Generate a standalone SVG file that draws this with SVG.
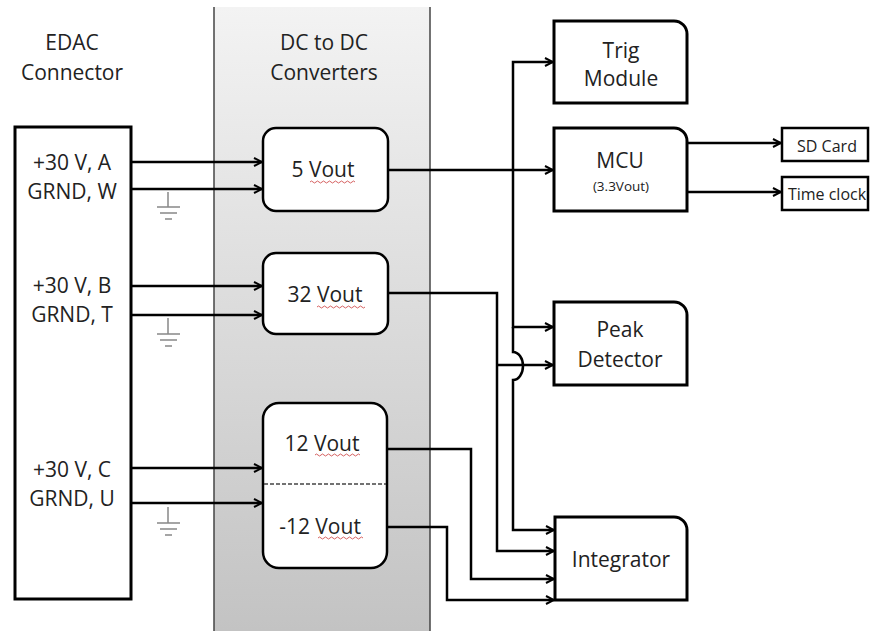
<svg xmlns="http://www.w3.org/2000/svg" width="870" height="631" viewBox="0 0 870 631">
<defs>
<linearGradient id="band" x1="0" y1="0" x2="0" y2="1">
<stop offset="0" stop-color="#f3f3f3"/>
<stop offset="1" stop-color="#c3c3c3"/>
</linearGradient>
<marker id="arr" viewBox="0 0 10 10" refX="9" refY="5" markerWidth="10" markerHeight="10" markerUnits="userSpaceOnUse" orient="auto">
<path d="M1,1 L9,5 L1,9" fill="none" stroke="#000" stroke-width="2" stroke-linejoin="miter"/>
</marker>
</defs>
<style>
text{font-family:"Open Sans","Liberation Sans",sans-serif;fill:#222;text-anchor:middle}
.t{font-size:21px}
.s{font-size:16px}
.xs{font-size:13.5px}
.box{fill:#fff;stroke:#000;stroke-width:3}
.conv{fill:#fff;stroke:#000;stroke-width:2.5}
.w{fill:none;stroke:#000;stroke-width:2.5}
.a{marker-end:url(#arr)}
.gnd{fill:none;stroke:#888;stroke-width:1.5}
.sq{fill:none;stroke:#d05050;stroke-width:0.9}
</style>
<rect width="870" height="631" fill="#fff"/>

<g id="band-region">
<rect x="214" y="7" width="216" height="624" fill="url(#band)"/>
<line x1="214" y1="7" x2="214" y2="631" stroke="#444" stroke-width="1.5"/>
<line x1="430" y1="7" x2="430" y2="631" stroke="#444" stroke-width="1.5"/>
<text class="t" x="324" y="50">DC to DC</text>
<text class="t" x="324" y="80">Converters</text>
</g>

<g id="edac">
<text class="t" x="72" y="50">EDAC</text>
<text class="t" x="72" y="80">Connector</text>
<rect class="box" x="15" y="127" width="116" height="472"/>
<text class="t" x="72" y="170">+30 V, A</text>
<text class="t" x="72" y="199">GRND, W</text>
<text class="t" x="72" y="293">+30 V, B</text>
<text class="t" x="72" y="322">GRND, T</text>
<text class="t" x="72" y="477">+30 V, C</text>
<text class="t" x="72" y="506">GRND, U</text>
</g>

<g id="grounds">
<path class="gnd" d="M168,192 V207 M157,207 H180 M160,213 H177 M165,219 H172"/>
<path class="gnd" d="M168,318 V334 M157,334 H180 M160,340 H177 M165,346 H172"/>
<path class="gnd" d="M168,507 V523 M157,523 H180 M160,529 H177 M165,535 H172"/>
</g>

<g id="conv5">
<rect class="conv" x="263" y="128" width="125" height="83" rx="13"/>
<text class="t" x="323" y="177">5 Vout</text>
<path class="sq" d="M310,182 q1.5,-2 3,0 t3,0 t3,0 t3,0 t3,0 t3,0 t3,0 t3,0 t3,0 t3,0 t3,0 t3,0 t3,0 t3,0 t3,0"/>
</g>

<g id="conv32">
<rect class="conv" x="263" y="253" width="125" height="81" rx="13"/>
<text class="t" x="325" y="302">32 Vout</text>
<path class="sq" d="M317,307 q1.5,-2 3,0 t3,0 t3,0 t3,0 t3,0 t3,0 t3,0 t3,0 t3,0 t3,0 t3,0 t3,0 t3,0 t3,0 t3,0 t3,0"/>
</g>

<g id="conv12">
<rect class="conv" x="263" y="403" width="124" height="165" rx="16"/>
<line x1="264" y1="484" x2="386" y2="484" stroke="#444" stroke-width="1.3" stroke-dasharray="4,2"/>
<text class="t" x="322" y="451">12 Vout</text>
<path class="sq" d="M315,455 q1.5,-2 3,0 t3,0 t3,0 t3,0 t3,0 t3,0 t3,0 t3,0 t3,0 t3,0 t3,0 t3,0 t3,0 t3,0 t3,0"/>
<text class="t" x="320" y="534">-12 Vout</text>
<path class="sq" d="M318,538 q1.5,-2 3,0 t3,0 t3,0 t3,0 t3,0 t3,0 t3,0 t3,0 t3,0 t3,0 t3,0 t3,0 t3,0 t3,0 t3,0"/>
</g>

<g id="trig">
<path class="box" d="M554,21 H674 A13,13 0 0 1 687,34 V103 H554 Z"/>
<text class="t" x="621" y="58">Trig</text>
<text class="t" x="621" y="86">Module</text>
</g>

<g id="mcu">
<path class="box" d="M554,128 H674 A13,13 0 0 1 687,141 V211 H554 Z"/>
<text class="t" x="620" y="168">MCU</text>
<text class="xs" x="621" y="191">(3.3Vout)</text>
</g>

<g id="sdcard">
<rect x="782" y="128" width="86" height="33" fill="#fff" stroke="#000" stroke-width="2.5"/>
<text class="s" x="827" y="152">SD Card</text>
</g>

<g id="timeclock">
<rect x="782" y="177" width="86" height="33" fill="#fff" stroke="#000" stroke-width="2.5"/>
<text class="s" x="827" y="200">Time clock</text>
</g>

<g id="peak">
<path class="box" d="M554,302 H674 A13,13 0 0 1 687,315 V385 H554 Z"/>
<text class="t" x="620" y="337">Peak</text>
<text class="t" x="620" y="367">Detector</text>
</g>

<g id="integrator">
<path class="box" d="M555,517 H674 A13,13 0 0 1 687,530 V600 H555 Z"/>
<text class="t" x="621" y="567">Integrator</text>
</g>

<g id="connectors">
<path class="w a" d="M131,162 H262"/>
<path class="w a" d="M131,189 H262"/>
<path class="w a" d="M131,286 H262"/>
<path class="w a" d="M131,315 H262"/>
<path class="w a" d="M131,468 H262"/>
<path class="w a" d="M131,503 H262"/>
<path class="w a" d="M388,170 H553"/>
<path class="w a" d="M513,170 V62 H553"/>
<path class="w a" d="M513,170 V327 H553"/>
<path class="w a" d="M513,327 V352 A10,14 0 0 1 513,380 V530 H554"/>
<path class="w a" d="M388,293 H497 V551 H554"/>
<path class="w a" d="M497,365 H553"/>
<path class="w a" d="M387,449 H471 V579 H554"/>
<path class="w a" d="M387,527 H447 V600 H554"/>
<path class="w a" d="M687,143 H781"/>
<path class="w a" d="M687,192 H781"/>
</g>
</svg>
